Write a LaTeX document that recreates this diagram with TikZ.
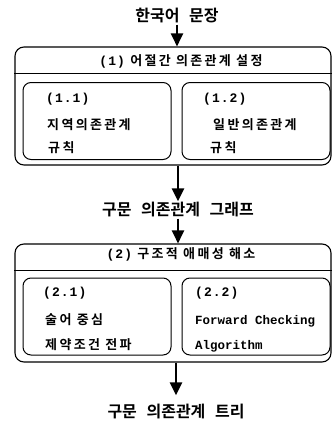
\documentclass[tikz,border=0pt]{standalone}
\usepackage{fontspec}
\setmainfont{Noto Sans CJK KR}[BoldFont={Noto Sans CJK KR Bold}]
\newfontfamily\krwide{Noto Sans CJK KR}[LetterSpace=18,BoldFont={Noto Sans CJK KR Bold}]
\newfontfamily\numfont{Liberation Mono}[LetterSpace=8]
\setmonofont{Liberation Mono}
\usetikzlibrary{positioning}
\usetikzlibrary{arrows.meta}
\newcommand{\gap}{\hspace{0.6em}}

\tikzset{
  outerbox/.style={draw, line width=1.1pt, rounded corners=9pt, minimum width=316pt, minimum height=118pt, inner sep=0pt},
  innerbox/.style={draw, line width=1pt, rounded corners=8pt, minimum width=148pt, minimum height=77pt, inner sep=0pt},
  caption/.style={inner sep=1pt, font=\fontsize{16}{16}\selectfont\bfseries},
  head/.style={inner sep=0pt, font=\fontsize{13}{13}\selectfont\krwide\bfseries},
  entry/.style={anchor=base west, inner sep=0pt, font=\fontsize{13}{13}\selectfont\krwide\bfseries},
  flow/.style={line width=2.4pt, -{Triangle[length=13pt,width=12pt]}},
}

\begin{document}
\begin{tikzpicture}[x=1pt,y=1pt]
\useasboundingbox (0,0) rectangle (332,-423);
% input sentence
\node[caption] (sent) at (177,-16) {한국어\gap 문장};
% stage 1
\node[outerbox] (stage1) at (173,-106) {};
\coordinate (hd1) at (0,-73);
\draw[line width=1pt] (stage1.west |- hd1) -- (stage1.east |- hd1);
\node[head] (title1) at (181,-61) {{\numfont (1)} 어절간 의존관계 설정};
\node[innerbox] (rule11) at (97,-121) {};
\node[innerbox] (rule12) at (256,-121) {};
\node[entry] (n11) at (46,-102.5) {\numfont (1.1)};
\node[entry] (t11) at (47,-129.5) {지역의존관계};
\node[entry] (r11) at (48,-152.5) {규칙};
\node[entry] (n12) at (203,-102.5) {\numfont (1.2)};
\node[entry] (t12) at (213,-129.5) {일반의존관계};
\node[entry] (r12) at (210,-152.5) {규칙};
\draw[flow] (sent) -- (sent |- stage1.north);
% dependency graph
\node[caption] (graph) at (178,-210) {구문\gap 의존관계\gap 그래프};
\draw[flow] (graph |- stage1.south) -- (graph.north);
% stage 2
\node[outerbox] (stage2) at (173,-303) {};
\coordinate (hd2) at (0,-270);
\draw[line width=1pt] (stage2.west |- hd2) -- (stage2.east |- hd2);
\node[head] (title2) at (181,-254) {{\numfont (2)} 구조적 애매성 해소};
\node[innerbox] (rule21) at (97,-316.5) {};
\node[innerbox] (rule22) at (256,-316.5) {};
\node[entry] (n21) at (43,-296.5) {\numfont (2.1)};
\node[entry] (t21) at (45,-324.5) {술어 중심};
\node[entry] (r21) at (45,-349.5) {제약조건 전파};
\node[entry] (n22) at (195,-296.5) {\numfont (2.2)};
\node[entry] (t22) at (195,-324.5) {\fontsize{12.5}{12.5}\ttfamily\bfseries Forward Checking};
\node[entry] (r22) at (195,-349.5) {\fontsize{12.5}{12.5}\ttfamily\bfseries Algorithm};
\draw[flow] (graph) -- (graph |- stage2.north);
% dependency tree
\node[caption] (tree) at (176,-412) {구문\gap 의존관계\gap 트리};
\draw[flow] (tree |- stage2.south) -- ([yshift=8pt]tree.north);
\end{tikzpicture}
\end{document}
